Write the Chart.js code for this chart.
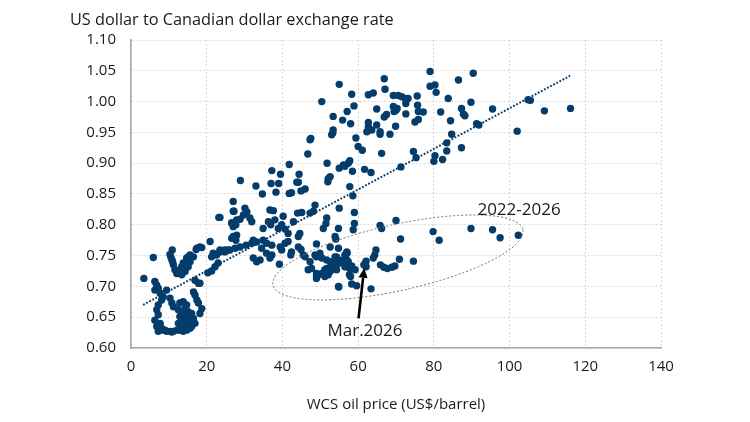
<!DOCTYPE html>
<html><head><meta charset="utf-8">
<script src="https://cdn.jsdelivr.net/npm/chart.js@4.4.1/dist/chart.umd.min.js"></script>
<style>html,body{margin:0;padding:0;background:#fff}#wrap{width:750px;height:422px;position:relative}</style>
</head><body><div id="wrap"><canvas id="c"></canvas></div>
<script>
// WCS oil price (US$/barrel)
const oilPrice = [
20.9,18.2,17.4,18.7,10.9,5.9,21.7,21.3,22.6,10.8,11.2,11.6,12.1,12.9,13.4,13.8,14.7,15.6,15.1,14.3,13.4,16.5,22.2,21.3,20.3,
3.4,6.3,6.8,7.2,6.3,7.7,8.5,8.1,9.4,16.9,17.8,18.2,16.5,16.9,17.4,17.8,18.7,18.2,7.2,6.8,7.2,6.3,7.7,10.8,11.2,
12.9,13.8,14.7,12.5,13.4,14.3,15.1,16.0,12.9,13.8,14.7,15.6,16.5,16.9,12.5,13.4,14.3,15.1,16.0,12.1,12.9,13.8,14.7,15.6,11.2,10.3,7.7,8.5,9.4,7.2,
10.3,10.5,11.0,15.6,23.0,10.3,6.8,8.1,9.0,10.8,23.5,24.8,25.6,17.2,15.1,12.4,
27.0,27.2,23.2,26.6,27.9,27.0,26.6,27.9,
47.3,46.7,41.8,51.8,55.0,56.5,57.4,37.2,39.5,44.4,28.9,33.0,37.0,39.0,43.8,44.2,52.1,52.0,34.7,38.3,41.8,42.4,44.9,46.0,57.8,
27.0,30.1,30.6,29.7,31.4,31.9,36.7,37.6,40.2,44.0,45.1,48.6,48.2,47.3,55.0,23.5,26.6,27.7,28.8,36.3,36.9,38.0,38.9,34.9,39.8,
40.7,41.5,42.9,44.6,44.2,51.7,51.5,50.8,54.8,53.9,54.1,27.0,27.7,32.3,33.2,31.9,30.4,28.8,27.5,26.1,24.8,23.5,34.9,35.8,37.2,
34.5,35.8,37.2,36.7,39.4,40.7,41.5,39.8,44.2,44.9,42.4,42.2,45.5,46.0,39.2,32.3,33.2,34.1,49.0,49.9,48.6,49.0,52.6,54.8,53.9,
54.8,53.4,47.3,47.7,46.8,49.0,49.0,51.7,52.6,52.1,51.2,54.8,56.5,57.0,56.5,
79.0,90.4,86.5,55.0,79.0,80.3,80.6,66.9,67.1,58.3,62.7,64.0,69.3,70.6,71.5,72.4,73.2,72.6,75.6,83.8,50.4,58.9,57.1,55.9,53.4,
58.0,64.9,69.3,70.0,69.5,70.3,72.6,75.7,75.9,77.2,81.8,87.3,87.8,88.2,89.8,67.5,66.9,62.7,62.7,64.9,63.6,62.3,65.8,65.8,68.4,
69.9,75.0,75.9,84.4,91.3,91.9,53.4,53.3,53.0,47.5,59.4,60.0,61.1,84.7,83.4,66.2,74.6,75.3,83.4,87.3,80.3,80.0,82.3,57.8,56.1,
58.5,61.7,63.4,71.3,52.6,
95.5,104.9,105.5,109.2,116.1,102.0,
58.6,59.0,65.8,66.2,70.0,59.0,58.7,71.2,79.8,81.4,89.8,95.5,97.5,102.3,57.0,57.1,64.7,64.4,64.0,62.1,61.5,62.1,
50.4,51.7,52.6,53.0,52.1,51.2,50.4,49.5,49.0,54.3,53.9,54.8,53.4,54.3,56.1,56.5,57.4,57.0,57.8,58.3,57.7,58.0,59.2,
65.9,66.8,67.7,68.9,69.7,70.9,74.6,54.9,58.3,59.6,63.4,61.8
];
// US dollar to Canadian dollar exchange rate
const fxRate = [
0.773,0.764,0.762,0.763,0.759,0.747,0.754,0.748,0.751,0.743,0.735,0.727,0.721,0.727,0.732,0.738,0.746,0.751,0.732,0.724,0.719,0.748,0.732,0.725,0.722,
0.713,0.708,0.702,0.697,0.694,0.689,0.683,0.678,0.694,0.710,0.705,0.705,0.691,0.686,0.678,0.673,0.664,0.656,0.670,0.662,0.654,0.645,0.640,0.673,0.667,
0.673,0.675,0.670,0.662,0.659,0.664,0.659,0.656,0.651,0.648,0.651,0.645,0.648,0.640,0.640,0.637,0.640,0.635,0.635,0.629,0.629,0.627,0.629,0.632,0.627,0.627,0.632,0.629,0.627,0.627,
0.752,0.748,0.740,0.740,0.738,0.681,0.635,0.632,0.629,0.626,0.756,0.756,0.759,0.760,0.748,0.722,
0.838,0.822,0.812,0.803,0.808,0.797,0.778,0.783,
0.938,0.915,0.898,0.900,0.892,0.895,0.900,0.888,0.882,0.882,0.872,0.863,0.867,0.867,0.869,0.869,0.875,0.870,0.850,0.853,0.851,0.852,0.855,0.858,0.862,
0.822,0.827,0.821,0.816,0.811,0.805,0.824,0.823,0.814,0.819,0.820,0.832,0.822,0.819,0.827,0.812,0.803,0.800,0.809,0.805,0.800,0.808,0.794,0.794,0.800,
0.793,0.786,0.805,0.786,0.781,0.811,0.802,0.794,0.794,0.781,0.777,0.781,0.775,0.775,0.772,0.770,0.767,0.764,0.762,0.759,0.759,0.759,0.775,0.770,0.767,
0.762,0.754,0.751,0.746,0.764,0.770,0.773,0.759,0.764,0.760,0.756,0.751,0.751,0.748,0.736,0.746,0.740,0.743,0.769,0.754,0.751,0.748,0.764,0.762,0.748,
0.743,0.740,0.740,0.729,0.727,0.716,0.721,0.729,0.724,0.719,0.716,0.700,0.751,0.743,0.732,
1.049,1.046,1.035,1.028,1.025,1.027,1.015,1.037,1.020,1.012,1.011,1.014,1.010,1.010,1.008,1.005,1.005,0.997,1.009,1.005,1.000,0.993,0.984,0.970,0.976,
0.964,0.988,0.992,0.986,0.984,0.989,0.980,0.994,0.984,0.983,0.983,0.989,0.980,0.977,0.999,0.979,0.975,0.966,0.959,0.962,0.954,0.951,0.951,0.947,0.947,
0.960,0.967,0.971,0.969,0.964,0.962,0.954,0.949,0.946,0.940,0.941,0.927,0.921,0.947,0.933,0.916,0.919,0.909,0.920,0.925,0.912,0.903,0.906,0.904,0.897,
0.887,0.890,0.885,0.894,0.878,
0.988,1.003,1.002,0.985,0.989,0.952,
0.847,0.820,0.799,0.794,0.807,0.802,0.792,0.777,0.789,0.775,0.794,0.792,0.779,0.783,0.756,0.754,0.759,0.751,0.746,0.741,0.735,0.732,
0.746,0.743,0.740,0.735,0.729,0.727,0.721,0.719,0.713,0.748,0.740,0.737,0.729,0.727,0.743,0.737,0.740,0.732,0.729,0.733,0.719,0.716,0.727,
0.735,0.731,0.729,0.731,0.733,0.744,0.741,0.699,0.704,0.701,0.696,0.737
];
// Linear trend line (start / end)
const trendX = [3.2, 116.0];
const trendY = [0.670, 1.042];

const xMin = 0, xMax = 140, xStep = 20;
const yMin = 0.60, yMax = 1.10, yStep = 0.05;

const titleText = 'US dollar to Canadian dollar exchange rate';
const xTitle = 'WCS oil price (US$/barrel)';
const periodLabel = '2022-2026';
const latestLabel = 'Mar.2026';

const NAVY = '#043d6b';
const FONT = "'Open Sans', 'DejaVu Sans', sans-serif";

const points = oilPrice.map((x, i) => ({x: x, y: fxRate[i]}));
const trend = trendX.map((x, i) => ({x: x, y: trendY[i]}));

const annotations = {
  id: 'annotations',
  afterDraw(chart) {
    const ctx = chart.ctx;
    const xs = chart.scales.x, ys = chart.scales.y;
    const px = v => xs.getPixelForValue(v), py = v => ys.getPixelForValue(v);
    ctx.save();
    // title
    ctx.fillStyle = '#1a1a1a';
    ctx.font = "16.3px " + FONT;
    ctx.textAlign = 'left';
    ctx.textBaseline = 'middle';
    ctx.fillText(titleText, 70, 20);

    // ellipse around 2022-2026 points
    const ax = px(37.5), ay = py(0.702), bx = px(103.5), by = py(0.792);
    const cx = (ax + bx) / 2, cy = (ay + by) / 2;
    const ang = Math.atan2(by - ay, bx - ax);
    const semiA = Math.hypot(bx - ax, by - ay) / 2;
    ctx.beginPath();
    ctx.ellipse(cx, cy, semiA, 33, ang, 0, Math.PI * 2);
    ctx.setLineDash([2, 2]);
    ctx.lineWidth = 1;
    ctx.strokeStyle = '#6e6e6e';
    ctx.stroke();
    ctx.setLineDash([]);

    // arrow to Mar.2026
    const tx = px(60.1), ty = py(0.648), hx = px(61.6), hy = py(0.730);
    const a2 = Math.atan2(hy - ty, hx - tx);
    const headL = 10, headW = 4.5;
    const bxh = hx - headL * Math.cos(a2), byh = hy - headL * Math.sin(a2);
    ctx.beginPath();
    ctx.moveTo(tx, ty);
    ctx.lineTo(bxh, byh);
    ctx.lineWidth = 2.6;
    ctx.strokeStyle = '#000';
    ctx.stroke();
    ctx.beginPath();
    ctx.moveTo(hx, hy);
    ctx.lineTo(bxh + headW * Math.sin(a2), byh - headW * Math.cos(a2));
    ctx.lineTo(bxh - headW * Math.sin(a2), byh + headW * Math.cos(a2));
    ctx.closePath();
    ctx.fillStyle = '#000';
    ctx.fill();

    // labels
    ctx.font = "17px " + FONT;
    ctx.fillStyle = '#1a1a1a';
    ctx.textAlign = 'center';
    ctx.textBaseline = 'middle';
    ctx.fillText(latestLabel, px(61.8), py(0.627));
    ctx.fillText(periodLabel, px(102.5), py(0.824));
    ctx.restore();
  }
};

new Chart(document.getElementById('c'), {
  type: 'scatter',
  data: {
    datasets: [
      {
        type: 'line',
        data: trend,
        borderColor: NAVY,
        borderWidth: 2,
        borderDash: [1.8, 1.7],
        pointRadius: 0,
        fill: false,
        tension: 0
      },
      {
        data: points,
        backgroundColor: NAVY,
        borderWidth: 0,
        pointRadius: 3.7,
        pointHoverRadius: 3.7
      }
    ]
  },
  options: {
    responsive: true,
    maintainAspectRatio: false,
    animation: false,
    layout: {padding: {left: 0, right: 89, top: 40, bottom: 0}},
    plugins: {legend: {display: false}, tooltip: {enabled: false}, title: {display: false}},
    scales: {
      x: {
        type: 'linear', min: xMin, max: xMax,
        ticks: {stepSize: xStep, font: {family: FONT, size: 15}, color: '#1a1a1a', padding: 10},
        grid: {color: '#d9d9d9', lineWidth: 1, drawTicks: false},
        border: {display: true, color: '#a6a6a6', width: 1.5, dash: [2, 2]},
        title: {display: true, text: xTitle, font: {family: FONT, size: 15}, color: '#1a1a1a', padding: {top: 4, bottom: 8}},
        afterFit(s) { s.height = 74; }
      },
      y: {
        type: 'linear', min: yMin, max: yMax,
        ticks: {stepSize: yStep, font: {family: FONT, size: 15}, color: '#1a1a1a', padding: 15,
          callback: v => Number(v).toFixed(2)},
        grid: {color: '#d9d9d9', lineWidth: 1, drawTicks: false},
        border: {display: true, color: '#a6a6a6', width: 1.5, dash: [2, 2]},
        afterFit(s) { s.width = 131; }
      }
    }
  },
  plugins: [annotations]
});
</script>
</body></html>
